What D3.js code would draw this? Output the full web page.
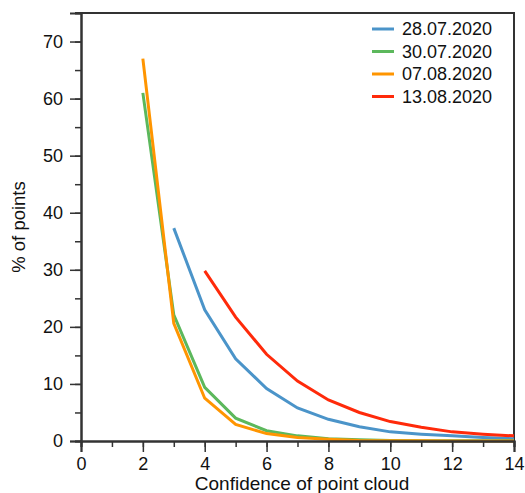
<!DOCTYPE html>
<html lang="en">
<head>
    <meta charset="UTF-8">
    <title>Confidence of point cloud</title>
    <script src="https://d3js.org/d3.v7.min.js"></script>
    <style>
        body { margin: 0; background: #fff; }
        svg text { font-family: "Liberation Sans", Arial, Helvetica, sans-serif; fill: #111; }
    </style>
</head>
<body>
    <div id="chart"></div>
    <script>
        const width = 525
        const height = 493
        const margin = {top: 13, right: 11, bottom: 52, left: 81}

        // values, x = confidence, y = % of points
        const dates = ["28.07.2020", "30.07.2020", "07.08.2020", "13.08.2020"]
        const colors = ["#4b94c9", "#5cb85c", "#ff9500", "#ff2a0a"]
        const conf28 = [3, 4, 5, 6, 7, 8, 9, 10, 11, 12, 13, 14]
        const val28 = [37.3, 23.0, 14.4, 9.2, 5.8, 3.8, 2.5, 1.6, 1.2, 0.9, 0.6, 0.4]
        const conf30 = [2, 3, 4, 5, 6, 7, 8, 9, 10, 11, 12, 13, 14]
        const val30 = [61.0, 22.1, 9.4, 4.0, 1.8, 0.9, 0.4, 0.2, 0.1, 0.05, 0.05, 0.03, 0.03]
        const conf07 = [2, 3, 4, 5, 6, 7, 8, 9, 10, 11, 12, 13, 14]
        const val07 = [67.0, 20.6, 7.5, 2.9, 1.3, 0.6, 0.3, 0.1, 0.05, 0.03, 0.02, 0.02, 0.02]
        const conf13 = [4, 5, 6, 7, 8, 9, 10, 11, 12, 13, 14]
        const val13 = [29.8, 21.7, 15.2, 10.5, 7.2, 5.0, 3.4, 2.4, 1.6, 1.2, 0.9]
        const xTicks = [0, 2, 4, 6, 8, 10, 12, 14]
        const yTicks = [0, 10, 20, 30, 40, 50, 60, 70]

        const series = [
            {name: dates[0], x: conf28, y: val28, color: colors[0]},
            {name: dates[1], x: conf30, y: val30, color: colors[1]},
            {name: dates[2], x: conf07, y: val07, color: colors[2]},
            {name: dates[3], x: conf13, y: val13, color: colors[3]}
        ]

        const svg = d3.select("#chart").append("svg")
            .attr("width", width)
            .attr("height", height)

        const x = d3.scaleLinear().domain([0, 14]).range([margin.left, width - margin.right])
        const y = d3.scaleLinear().domain([0, 75]).range([height - margin.bottom, margin.top])

        // frame top + right
        svg.append("path")
            .attr("d", `M${margin.left - 6},${margin.top}H${width - margin.right}V${height - margin.bottom}`)
            .attr("fill", "none")
            .attr("stroke", "#333")
            .attr("stroke-width", 2)

        let line = d3.line().x(d => x(d[0])).y(d => y(d[1]))
        svg.append("g").selectAll("path")
            .data(series)
            .enter().append("path")
            .attr("fill", "none")
            .attr("stroke", d => d.color)
            .attr("stroke-width", 3)
            .attr("d", d => line(d.x.map((v, i) => [v, d.y[i]])))

        // minor ticks
        const xAxisMinor = d3.axisBottom(x).tickValues(d3.range(0, 15, 1)).tickSize(6).tickFormat("")
        const yAxisMinor = d3.axisLeft(y).tickValues(d3.range(0, 75, 5)).tickSize(6).tickFormat("")
        const xAxis = d3.axisBottom(x).tickValues(xTicks).tickSize(11).tickPadding(5)
        const yAxis = d3.axisLeft(y).tickValues(yTicks).tickSize(11).tickPadding(7)

        const gx = svg.append("g").attr("transform", `translate(0,${height - margin.bottom})`)
        gx.append("g").call(xAxisMinor)
        gx.append("g").call(xAxis)
        const gy = svg.append("g").attr("transform", `translate(${margin.left},0)`)
        gy.append("g").call(yAxisMinor)
        gy.append("g").call(yAxis)

        svg.selectAll(".domain").attr("stroke", "#333").attr("stroke-width", 2)
        svg.selectAll(".tick line").attr("stroke", "#333").attr("stroke-width", 1.5)
        svg.selectAll(".tick text")
            .attr("font-size", 18)
            .attr("font-family", "Liberation Sans, Arial, sans-serif")
            .attr("fill", "#111")

        svg.append("text")
            .attr("x", 302)
            .attr("y", 490)
            .attr("text-anchor", "middle")
            .attr("font-size", 19)
            .text("Confidence of point cloud")

        svg.append("text")
            .attr("transform", `translate(25,227) rotate(-90)`)
            .attr("text-anchor", "middle")
            .attr("font-size", 18.5)
            .text("% of points")

        // legend
        const legend = svg.append("g").selectAll("g")
            .data(series)
            .enter().append("g")
            .attr("transform", (d, i) => `translate(372,${29 + i * 22.5})`)
        legend.append("line")
            .attr("x1", 0).attr("x2", 22)
            .attr("stroke", d => d.color)
            .attr("stroke-width", 3)
        legend.append("text")
            .attr("x", 30)
            .attr("dy", "0.35em")
            .attr("font-size", 18)
            .text(d => d.name)
    </script>
</body>
</html>
